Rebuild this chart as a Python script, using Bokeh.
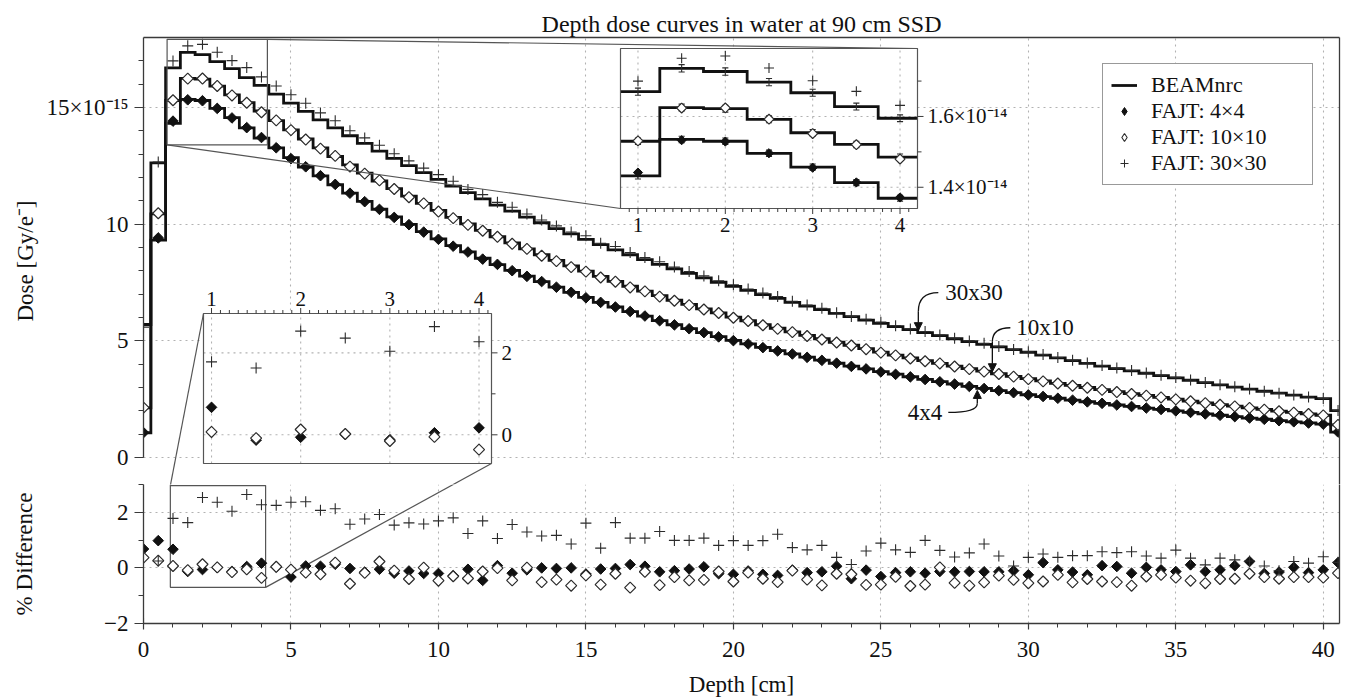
import numpy as np
from bokeh.plotting import figure
from bokeh.layouts import column
from bokeh.models import (Range1d, LinearAxis, FixedTicker, Grid, Legend,
                          LegendItem, Arrow, NormalHead)
from bokeh.core.properties import value
from bokeh.embed import file_html
from bokeh.resources import INLINE

# ------------------------------------------------------------------ data
depth = [0.0, 0.5, 1.0, 1.5, 2.0, 2.5, 3.0, 3.5, 4.0, 4.5,
         5.0, 5.5, 6.0, 6.5, 7.0, 7.5, 8.0, 8.5, 9.0, 9.5,
         10.0, 10.5, 11.0, 11.5, 12.0, 12.5, 13.0, 13.5, 14.0, 14.5,
         15.0, 15.5, 16.0, 16.5, 17.0, 17.5, 18.0, 18.5, 19.0, 19.5,
         20.0, 20.5, 21.0, 21.5, 22.0, 22.5, 23.0, 23.5, 24.0, 24.5,
         25.0, 25.5, 26.0, 26.5, 27.0, 27.5, 28.0, 28.5, 29.0, 29.5,
         30.0, 30.5, 31.0, 31.5, 32.0, 32.5, 33.0, 33.5, 34.0, 34.5,
         35.0, 35.5, 36.0, 36.5, 37.0, 37.5, 38.0, 38.5, 39.0, 39.5,
         40.0, 40.5]

# BEAMnrc dose (units of 1e-15 Gy/e-)
beam_4x4 = [1.06, 9.32, 14.32, 15.35, 15.30, 14.96, 14.57, 14.13, 13.69, 13.27,
            12.85, 12.45, 12.07, 11.69, 11.33, 10.98, 10.64, 10.31, 9.99, 9.68,
            9.37, 9.08, 8.81, 8.54, 8.27, 8.02, 7.77, 7.54, 7.30, 7.08,
            6.86, 6.65, 6.45, 6.25, 6.06, 5.87, 5.69, 5.52, 5.35, 5.18,
            5.02, 4.87, 4.72, 4.58, 4.44, 4.30, 4.17, 4.04, 3.92, 3.80,
            3.68, 3.57, 3.46, 3.35, 3.25, 3.15, 3.05, 2.96, 2.87, 2.78,
            2.69, 2.61, 2.54, 2.46, 2.39, 2.32, 2.25, 2.19, 2.12, 2.06,
            2.00, 1.93, 1.87, 1.81, 1.75, 1.69, 1.64, 1.58, 1.53, 1.48,
            1.43, 1.09]
beam_10x10 = [2.13, 10.44, 15.30, 16.25, 16.22, 15.92, 15.54, 15.21, 14.85, 14.44,
              14.04, 13.65, 13.27, 12.90, 12.54, 12.19, 11.85, 11.52, 11.20, 10.89,
              10.59, 10.29, 10.01, 9.73, 9.46, 9.20, 8.94, 8.69, 8.45, 8.21,
              7.99, 7.76, 7.55, 7.34, 7.13, 6.94, 6.74, 6.56, 6.37, 6.20,
              6.02, 5.86, 5.69, 5.54, 5.38, 5.23, 5.09, 4.94, 4.81, 4.67,
              4.52, 4.39, 4.27, 4.15, 4.03, 3.92, 3.81, 3.70, 3.59, 3.48,
              3.38, 3.28, 3.18, 3.09, 3.00, 2.91, 2.82, 2.74, 2.66, 2.58,
              2.50, 2.42, 2.34, 2.27, 2.20, 2.13, 2.06, 1.99, 1.93, 1.87,
              1.81, 1.40]
beam_30x30 = [5.70, 12.63, 16.70, 17.36, 17.27, 16.97, 16.67, 16.28, 15.95, 15.57,
              15.19, 14.83, 14.47, 14.13, 13.79, 13.46, 13.13, 12.82, 12.51, 12.21,
              11.92, 11.63, 11.35, 11.08, 10.82, 10.56, 10.30, 10.06, 9.81, 9.58,
              9.35, 9.12, 8.90, 8.69, 8.48, 8.28, 8.08, 7.89, 7.70, 7.51,
              7.33, 7.16, 6.98, 6.82, 6.65, 6.49, 6.34, 6.18, 6.04, 5.89,
              5.75, 5.61, 5.48, 5.35, 5.22, 5.09, 4.97, 4.85, 4.74, 4.62,
              4.51, 4.39, 4.27, 4.15, 4.03, 3.92, 3.81, 3.71, 3.61, 3.51,
              3.41, 3.31, 3.21, 3.11, 3.02, 2.93, 2.84, 2.76, 2.67, 2.59,
              2.52, 2.01]

# FAJT vs BEAMnrc, % difference
diff_4x4 = [0.68, 0.98, 0.67, -0.13, -0.06, 0.01, -0.12, 0.05, 0.17, 0.03,
            -0.33, 0.07, 0.06, 0.13, -0.02, -0.15, -0.05, -0.19, -0.11, -0.20,
            -0.20, -0.28, -0.05, -0.45, 0.08, -0.19, -0.07, 0.00, -0.02, 0.00,
            -0.22, -0.04, -0.02, 0.12, 0.06, -0.14, -0.10, -0.04, 0.04, -0.21,
            -0.23, -0.11, -0.23, -0.27, -0.08, -0.17, -0.14, 0.06, -0.39, -0.08,
            -0.31, -0.17, -0.14, -0.19, -0.13, -0.14, -0.13, -0.14, -0.14, -0.10,
            -0.25, 0.19, -0.07, -0.15, -0.25, 0.08, 0.05, -0.19, 0.02, -0.07,
            -0.13, 0.11, -0.13, -0.07, 0.08, 0.23, -0.20, -0.15, 0.02, -0.17,
            -0.07, 0.19]
diff_10x10 = [0.37, 0.26, 0.07, -0.08, 0.13, 0.02, -0.15, -0.05, -0.36, 0.04,
              -0.06, -0.17, -0.23, 0.19, -0.57, -0.18, 0.23, -0.10, -0.40, 0.01,
              -0.46, -0.30, -0.38, -0.13, -0.01, -0.45, 0.01, -0.51, -0.42, -0.64,
              -0.27, -0.60, -0.21, -0.71, -0.14, -0.62, -0.33, -0.45, -0.43, -0.13,
              -0.49, -0.17, -0.39, -0.51, -0.10, -0.42, -0.63, -0.21, -0.23, -0.61,
              -0.60, -0.32, -0.65, -0.60, 0.02, -0.54, -0.64, -0.52, -0.28, -0.43,
              -0.55, -0.49, -0.25, -0.52, -0.40, -0.49, -0.51, -0.64, -0.31, -0.25,
              -0.35, -0.46, -0.55, -0.40, -0.39, -0.21, -0.33, -0.39, -0.33, -0.33,
              -0.35, -0.19]
diff_30x30 = [-2.00, 0.25, 1.78, 1.63, 2.53, 2.36, 2.04, 2.64, 2.27, 2.25,
              2.36, 2.38, 2.07, 2.13, 1.57, 1.76, 1.92, 1.54, 1.62, 1.58,
              1.69, 1.80, 1.24, 1.69, 1.06, 1.56, 1.29, 1.15, 1.17, 0.86,
              1.61, 0.71, 1.63, 1.07, 1.07, 1.31, 0.99, 0.99, 1.07, 0.81,
              0.98, 0.81, 0.98, 1.21, 0.73, 0.65, 0.81, 0.38, 0.12, 0.61,
              0.89, 0.65, 0.56, 0.99, 0.63, 0.39, 0.54, 0.86, 0.43, 0.07,
              0.38, 0.50, 0.38, 0.44, 0.44, 0.58, 0.55, 0.58, 0.43, 0.35,
              0.64, 0.35, 0.11, 0.35, 0.29, 0.25, 0.07, -0.10, 0.23, 0.17,
              0.40, 0.20]

beam_rel_unc_pct = 0.6          # BEAMnrc error bars seen in the zoom inset

x_ticks = [0, 5, 10, 15, 20, 25, 30, 35, 40]
dose_ticks = [0, 5, 10, 15]
diff_ticks = [-2, 0, 2]
dose_tick_labels = {15: "15×10⁻¹⁵"}
diff_tick_labels = {-2: "−2"}
inset_x_ticks = [1, 2, 3, 4]
top_inset_y_ticks = [14, 16]
top_inset_y_labels = ["1.4×10⁻¹⁴", "1.6×10⁻¹⁴"]
left_inset_y_ticks = [0, 2]
left_inset_y_labels = ["0", "2"]
legend_labels = ["BEAMnrc", "FAJT: 4×4", "FAJT: 10×10", "FAJT: 30×30"]
callout_labels = ["30x30", "10x10", "4x4"]

for s in (beam_4x4, beam_10x10, beam_30x30, diff_4x4, diff_10x10, diff_30x30):
    assert len(s) == len(depth)

# ------------------------------------------------------------------ style
FONT = "Liberation Serif"
INK = "#111111"
AXC = "#3a3a3a"
GRIDC = "#b2b2b2"
BOXC = "#555555"
EDGE = "#2b2b2b"
GDASH = "2 4"

# ------------------------------------------------------------------ layout (page px)
MARGIN = 0
FR_L, FR_R = 143, 1339
A_TOP, A_ZERO, SPLIT, B_BOT = 37, 457, 484, 623
FIG_RIGHT, FIG_BOTTOM = 1349, 697


class Lin:
    """linear data <-> page pixel map"""
    def __init__(self, d0, d1, p0, p1):
        self.d0, self.d1, self.p0, self.p1 = d0, d1, p0, p1
        self.k = (p1 - p0) / (d1 - d0)

    def px(self, d):
        return self.p0 + (np.asarray(d, dtype=float) - self.d0) * self.k

    def dat(self, p):
        return self.d0 + (np.asarray(p, dtype=float) - self.p0) / self.k

    def shift(self, d, dpx):
        return float(self.dat(self.px(d) + dpx))

    def rng(self, pa, pb):
        return Range1d(float(self.dat(pa)), float(self.dat(pb)))


X_END = 40.55
MX = Lin(0.0, X_END, FR_L, FR_R)
AY = Lin(0.0, 18.0, A_ZERO, A_TOP)
BY = Lin(-2.0, 3.0, B_BOT, SPLIT)
TX = Lin(0.8, 4.2, 620, 917)        # zoom inset of the dose maximum
TY = Lin(13.4, 17.92, 208, 48)
LX = Lin(0.91, 4.14, 203, 491)      # zoom inset of the % difference
LY = Lin(-0.7, 2.96, 463, 313)

HALF = (depth[1] - depth[0]) / 2.0


def step_path(xc, yv, lo, hi):
    xs, ys = [], []
    for c, v in zip(xc, yv):
        a, b = max(c - HALF, lo), min(c + HALF, hi)
        if a >= b:
            continue
        xs += [a, b]
        ys += [v, v]
    return xs, ys


def fajt(beam, diff):
    return [b * (1.0 + d / 100.0) for b, d in zip(beam, diff)]


series = [("4x4", beam_4x4, diff_4x4), ("10x10", beam_10x10, diff_10x10),
          ("30x30", beam_30x30, diff_30x30)]

MK = {
    "4x4": dict(marker="square", angle=np.pi / 4, fill_color=INK, line_color=INK, line_width=1.0),
    "10x10": dict(marker="square", angle=np.pi / 4, fill_color="white", line_color=EDGE, line_width=1.2),
    "30x30": dict(marker="cross", line_color=EDGE, line_width=1.1),
}
SZ_MAIN = {"4x4": 7.5, "10x10": 7.8, "30x30": 11}
SZ_INSET = {"4x4": 6.5, "10x10": 7.0, "30x30": 10}


def txt(p, x, y, labels, size="23px", align="center", baseline="middle", **kw):
    p.text(x=list(map(float, x)), y=list(map(float, y)), text=list(labels),
           text_font=value(FONT), text_font_size=value(size), text_color=INK,
           text_align=align, text_baseline=baseline, **kw)


def style_axis(ax, major_out=8, minor_out=4):
    ax.axis_line_color = AXC
    ax.axis_line_width = 1.3
    ax.major_tick_line_color = AXC
    ax.major_tick_line_width = 1.2
    ax.minor_tick_line_color = AXC
    ax.minor_tick_line_width = 1.0
    ax.major_tick_out = major_out
    ax.major_tick_in = 0
    ax.minor_tick_out = minor_out
    ax.minor_tick_in = 0
    ax.major_label_text_font = FONT
    ax.major_label_text_font_size = "23px"
    ax.major_label_text_color = INK
    ax.axis_label_text_font = FONT
    ax.axis_label_text_font_size = "23px"
    ax.axis_label_text_font_style = "normal"
    ax.axis_label_text_color = INK


def border_axis(**kw):
    ax = LinearAxis(ticker=FixedTicker(ticks=[]), axis_line_color=AXC, axis_line_width=1.3,
                    major_tick_out=0, major_tick_in=0, minor_tick_out=0, minor_tick_in=0, **kw)
    return ax


def add_grid(p, dim, ticks):
    g = Grid(dimension=dim, ticker=FixedTicker(ticks=ticks), grid_line_color=GRIDC,
             grid_line_dash=GDASH, grid_line_width=1.1)
    p.add_layout(g)


# ------------------------------------------------------------------ figures
xr = MX.rng(FR_L, FR_R)

pA = figure(frame_width=FR_R - FR_L, frame_height=SPLIT - A_TOP,
            x_range=xr, y_range=AY.rng(SPLIT, A_TOP),
            x_axis_location=None, y_axis_location=None,
            toolbar_location=None, output_backend="svg",
            min_border_left=FR_L - MARGIN, min_border_right=FIG_RIGHT - FR_R,
            min_border_top=A_TOP - MARGIN, min_border_bottom=0,
            title="Depth dose curves in water at 90 cm SSD")
pA.title.text_font = FONT
pA.title.text_font_size = "24px"
pA.title.text_font_style = "normal"
pA.title.text_color = INK
pA.title.align = "center"
pA.title.standoff = 2
pA.outline_line_color = None
pA.xgrid.visible = False
pA.ygrid.visible = False
pA.extra_x_ranges = {"tx": TX.rng(FR_L, FR_R), "lx": LX.rng(FR_L, FR_R)}
pA.extra_y_ranges = {"ty": TY.rng(SPLIT, A_TOP), "ly": LY.rng(SPLIT, A_TOP),
                     "dy": BY.rng(SPLIT, A_TOP)}

pB = figure(frame_width=FR_R - FR_L, frame_height=B_BOT - SPLIT,
            x_range=xr, y_range=BY.rng(B_BOT, SPLIT),
            x_axis_location=None, y_axis_location=None,
            toolbar_location=None, output_backend="svg",
            min_border_left=FR_L - MARGIN, min_border_right=FIG_RIGHT - FR_R,
            min_border_top=0, min_border_bottom=FIG_BOTTOM - B_BOT)
pB.outline_line_color = None
pB.xgrid.visible = False
pB.ygrid.visible = False

# axes
ya = LinearAxis(ticker=FixedTicker(ticks=dose_ticks, minor_ticks=list(range(0, 18))),
                bounds=(0, 18), axis_label="Dose [Gy/e⁻]")
style_axis(ya, 9, 5)
ya.major_label_overrides = dose_tick_labels
ya.major_label_standoff = 6
ya.axis_label_standoff = 6
pA.add_layout(ya, "left")
pA.add_layout(border_axis(), "right")
pA.add_layout(border_axis(), "above")

yb = LinearAxis(ticker=FixedTicker(ticks=diff_ticks, minor_ticks=[-1, 1, 3]),
                axis_label="% Difference")
style_axis(yb, 9, 5)
yb.major_label_overrides = diff_tick_labels
yb.major_label_standoff = 6
yb.axis_label_standoff = 64
pB.add_layout(yb, "left")
xb = LinearAxis(ticker=FixedTicker(ticks=x_ticks, minor_ticks=list(range(0, 41))),
                bounds=(0, X_END), axis_label="Depth [cm]")
style_axis(xb, 6, 4)
xb.major_label_standoff = 12
xb.axis_label_standoff = 12
pB.add_layout(xb, "below")
pB.add_layout(border_axis(), "right")

add_grid(pA, 0, x_ticks)
add_grid(pA, 1, dose_ticks)
add_grid(pB, 0, x_ticks)
add_grid(pB, 1, [0, 2])

# white strip between the panels (hides vertical grid there)
pA.quad(left=[xr.start], right=[xr.end], bottom=[pA.y_range.start],
        top=[float(AY.dat(A_ZERO + 1))], fill_color="white", line_color=None)

# ------------------------------------------------------------------ main panel
step_r = {}
for name, beam, diff in series:
    xs, ys = step_path(depth, beam, 0.0, X_END)
    step_r[name] = pA.line(xs, ys, line_color=INK, line_width=2.8, line_join="miter")
for name, beam, diff in series:
    pA.scatter(depth, fajt(beam, diff), size=SZ_MAIN[name], **MK[name])

# call-outs
callouts = [  # label, series, tip depth, side, bend offset px, start offset px, text offset px, align
    (callout_labels[0], beam_30x30, 26.27, -1, -19, (20, -38), 7, "left"),
    (callout_labels[1], beam_10x10, 28.78, -1, -30, (18, -44), 6, "left"),
    (callout_labels[2], beam_4x4, 28.27, +1, 13, (-29, 22), -6, "right"),
]
for lab, beam, xt, side, bend, start, toff, align in callouts:
    idx = int(round(xt / (2 * HALF)))
    tip_px = (float(MX.px(xt)), float(AY.px(beam[idx])) + 2 * side)
    bend_px = (tip_px[0], tip_px[1] + bend)
    st_px = (tip_px[0] + start[0], tip_px[1] + start[1])
    pA.quadratic(x0=[float(MX.dat(st_px[0]))], y0=[float(AY.dat(st_px[1]))],
                 x1=[float(MX.dat(bend_px[0]))], y1=[float(AY.dat(bend_px[1]))],
                 cx=[float(MX.dat(bend_px[0]))], cy=[float(AY.dat(st_px[1]))],
                 line_color=INK, line_width=1.3)
    pA.add_layout(Arrow(end=NormalHead(size=8, fill_color=INK, line_color=INK),
                        x_start=float(MX.dat(bend_px[0])), y_start=float(AY.dat(bend_px[1])),
                        x_end=float(MX.dat(tip_px[0])), y_end=float(AY.dat(tip_px[1])),
                        line_color=INK, line_width=1.3))
    txt(pA, [MX.dat(st_px[0] + toff)], [AY.dat(st_px[1])], [lab], align=align)

# ------------------------------------------------------------------ zoom inset of the maximum
pA.quad(left=[TX.d0], right=[TX.d1], bottom=[TY.d0], top=[TY.d1],
        fill_color=None, line_color=BOXC, line_width=1.2)
pA.segment(x0=[TX.d1, TX.d0], y0=[TY.d1, TY.d0],
           x1=[float(MX.dat(TX.p1)), float(MX.dat(TX.p0))],
           y1=[float(AY.dat(TY.p1)), float(AY.dat(TY.p0))],
           line_color=BOXC, line_width=1.2)

kT = dict(x_range_name="tx", y_range_name="ty")
pA.quad(left=[TX.d0], right=[TX.d1], bottom=[TY.d0], top=[TY.d1],
        fill_color="white", line_color=None, **kT)
pA.segment(x0=inset_x_ticks, y0=[TY.d0] * 4, x1=inset_x_ticks, y1=[TY.d1] * 4,
           line_color=GRIDC, line_dash=GDASH, line_width=1.1, **kT)
pA.segment(x0=[TX.d0] * 2, y0=top_inset_y_ticks, x1=[TX.d1] * 2, y1=top_inset_y_ticks,
           line_color=GRIDC, line_dash=GDASH, line_width=1.1, **kT)
t_idx = [i for i, x in enumerate(depth) if TX.d0 <= x <= TX.d1]
for name, beam, diff in series:
    xs, ys = step_path(depth, beam, TX.d0, TX.d1)
    pA.line(xs, ys, line_color=INK, line_width=2.8, line_join="miter", **kT)
    xe = [depth[i] for i in t_idx]
    lo = [beam[i] * (1 - beam_rel_unc_pct / 100) for i in t_idx]
    hi = [beam[i] * (1 + beam_rel_unc_pct / 100) for i in t_idx]
    pA.segment(x0=xe, y0=lo, x1=xe, y1=hi, line_color=EDGE, line_width=1.1, **kT)
    pA.segment(x0=[x - 0.035 for x in xe] * 2, y0=lo + hi,
               x1=[x + 0.035 for x in xe] * 2, y1=lo + hi,
               line_color=EDGE, line_width=1.1, **kT)
for name, beam, diff in series:
    f = fajt(beam, diff)
    pA.scatter([depth[i] for i in t_idx], [f[i] for i in t_idx],
               size=SZ_INSET[name], **MK[name], **kT)
pA.quad(left=[TX.d0], right=[TX.d1], bottom=[TY.d0], top=[TY.d1],
        fill_color=None, line_color=BOXC, line_width=1.2, **kT)
tt = [round(v, 1) for v in np.arange(0.9, 4.15, 0.1)]
tl = [5.5 if abs(v - round(v)) < 1e-6 else 3.5 for v in tt]
pA.segment(x0=tt, y0=[TY.d0] * len(tt), x1=tt, y1=[TY.shift(TY.d0, L) for L in tl],
           line_color=AXC, line_width=1.0, **kT)
txt(pA, inset_x_ticks, [TY.shift(TY.d0, 9)] * 4, [str(v) for v in inset_x_ticks],
    size="21px", baseline="top", **kT)
ry = [14, 15, 16, 17]
pA.segment(x0=[TX.d1] * 4, y0=ry, x1=[TX.shift(TX.d1, 6 if v in top_inset_y_ticks else 4) for v in ry],
           y1=ry, line_color=AXC, line_width=1.0, **kT)
txt(pA, [TX.shift(TX.d1, 10)] * 2, top_inset_y_ticks, top_inset_y_labels,
    size="21px", align="left", **kT)

# ------------------------------------------------------------------ zoom inset of the % difference
con_x0 = [LX.d0, LX.d1]
con_y0 = [LY.d1, LY.d0]
con_x1 = [float(MX.dat(LX.p0)), float(MX.dat(LX.p1))]
con_y1 = [float(BY.dat(LY.p1)), float(BY.dat(LY.p0))]
pA.segment(x0=con_x0, y0=con_y0, x1=con_x1, y1=con_y1, line_color=BOXC,
           line_width=1.2, y_range_name="dy")

kL = dict(x_range_name="lx", y_range_name="ly")
pA.quad(left=[LX.d0], right=[LX.d1], bottom=[LY.d0], top=[LY.d1],
        fill_color="white", line_color=None, **kL)
pA.segment(x0=inset_x_ticks, y0=[LY.d0] * 4, x1=inset_x_ticks, y1=[LY.d1] * 4,
           line_color=GRIDC, line_dash=GDASH, line_width=1.1, **kL)
pA.segment(x0=[LX.d0] * 2, y0=left_inset_y_ticks, x1=[LX.d1] * 2, y1=left_inset_y_ticks,
           line_color=GRIDC, line_dash=GDASH, line_width=1.1, **kL)
l_idx = [i for i, x in enumerate(depth) if LX.d0 <= x <= LX.d1]
for name, beam, diff in series:
    pA.scatter([depth[i] for i in l_idx], [diff[i] for i in l_idx],
               size=SZ_MAIN[name], **MK[name], **kL)
pA.quad(left=[LX.d0], right=[LX.d1], bottom=[LY.d0], top=[LY.d1],
        fill_color=None, line_color=BOXC, line_width=1.2, **kL)
lt = [round(v, 1) for v in np.arange(1.0, 4.15, 0.1)]
ll = [5.5 if abs(v - round(v)) < 1e-6 else 3.5 for v in lt]
pA.segment(x0=lt, y0=[LY.d1] * len(lt), x1=lt, y1=[LY.shift(LY.d1, -L) for L in ll],
           line_color=AXC, line_width=1.0, **kL)
txt(pA, inset_x_ticks, [LY.shift(LY.d1, -8)] * 4, [str(v) for v in inset_x_ticks],
    size="21px", baseline="bottom", **kL)
lry = [0, 1, 2]
pA.segment(x0=[LX.d1] * 3, y0=lry, x1=[LX.shift(LX.d1, 6 if v in left_inset_y_ticks else 4) for v in lry],
           y1=lry, line_color=AXC, line_width=1.0, **kL)
txt(pA, [LX.shift(LX.d1, 10)] * 2, left_inset_y_ticks, left_inset_y_labels,
    size="21px", align="left", **kL)

# ------------------------------------------------------------------ legend (legend-only glyphs)
nan = [float("nan")]
lg_line = pA.line(nan, nan, line_color=INK, line_width=2.8)
lg_4 = pA.scatter(nan, nan, marker="diamond", size=11, fill_color=INK, line_color=INK)
lg_10 = pA.scatter(nan, nan, marker="diamond", size=11, fill_color="white",
                   line_color=EDGE, line_width=1.1)
lg_30 = pA.scatter(nan, nan, marker="cross", size=10, line_color=EDGE, line_width=1.0)
legend = Legend(items=[LegendItem(label=legend_labels[0], renderers=[lg_line]),
                       LegendItem(label=legend_labels[1], renderers=[lg_4]),
                       LegendItem(label=legend_labels[2], renderers=[lg_10]),
                       LegendItem(label=legend_labels[3], renderers=[lg_30])],
                location="top_right", margin=26, padding=8, spacing=0,
                glyph_width=26, glyph_height=20, label_standoff=14,
                label_width=153, label_height=20,
                label_text_font=FONT, label_text_font_size="22px", label_text_color=INK,
                border_line_color="#333333", border_line_width=1.2,
                background_fill_color="white", background_fill_alpha=1.0)
pA.add_layout(legend)

# ------------------------------------------------------------------ lower panel
pB.quad(left=[LX.d0], right=[LX.d1], bottom=[LY.d0], top=[LY.d1],
        fill_color=None, line_color=BOXC, line_width=1.2)
pB.segment(x0=con_x0, y0=con_y0, x1=con_x1, y1=con_y1, line_color=BOXC, line_width=1.2)
for name, beam, diff in series:
    pB.scatter(depth, diff, size=SZ_MAIN[name], **MK[name])

layout = column(pA, pB, spacing=0)
open("out.html", "w").write(file_html(layout, INLINE, title="Depth dose curves"))
